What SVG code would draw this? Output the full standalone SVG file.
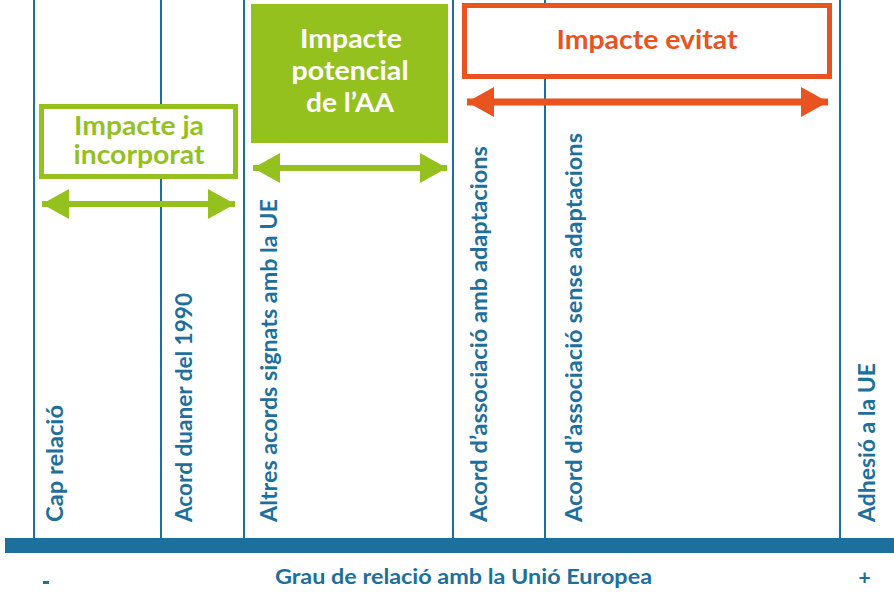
<svg xmlns="http://www.w3.org/2000/svg" width="894" height="592" viewBox="0 0 894 592">
  <style>
    .grid { stroke: #1d6f9c; stroke-width: 2; }
    .lbl { font-family: Lato, "Open Sans", "DejaVu Sans", sans-serif; font-weight: 700; fill: #1d6f9c; font-size: 22.5px; }
    .title { font-family: Lato, "Open Sans", "DejaVu Sans", sans-serif; font-weight: 700; font-size: 26px; text-anchor: middle; }
    .green { fill: #95c11f; }
    .white { fill: #ffffff; }
    .orange { fill: #e8531f; }
    .axis { font-family: Lato, "Open Sans", "DejaVu Sans", sans-serif; font-weight: 700; fill: #1d6f9c; font-size: 21px; }
  </style>
  <defs>
    <marker id="headG" viewBox="0 0 27 30" refX="27" refY="15" markerWidth="27" markerHeight="30" markerUnits="userSpaceOnUse" orient="auto-start-reverse">
      <path d="M0,0 L27,15 L0,30 Z" fill="#95c11f"/>
    </marker>
    <marker id="headO" viewBox="0 0 27 30" refX="27" refY="15" markerWidth="27" markerHeight="30" markerUnits="userSpaceOnUse" orient="auto-start-reverse">
      <path d="M0,0 L27,15 L0,30 Z" fill="#e8531f"/>
    </marker>
  </defs>

  <rect width="894" height="592" fill="#ffffff"/>

  <!-- vertical division lines -->
  <g id="grid">
    <line class="grid" x1="34" y1="0" x2="34" y2="540"/>
    <line class="grid" x1="161" y1="0" x2="161" y2="540"/>
    <line class="grid" x1="244" y1="0" x2="244" y2="540"/>
    <line class="grid" x1="453" y1="0" x2="453" y2="540"/>
    <line class="grid" x1="545" y1="0" x2="545" y2="540"/>
    <line class="grid" x1="840" y1="0" x2="840" y2="540"/>
  </g>

  <!-- relationship levels -->
  <g id="lvl-cap">
    <text class="lbl" transform="translate(63,522) rotate(-90)" textLength="117" lengthAdjust="spacingAndGlyphs">Cap relació</text>
  </g>
  <g id="lvl-duaner">
    <text class="lbl" transform="translate(192,522) rotate(-90)" textLength="229" lengthAdjust="spacingAndGlyphs">Acord duaner del 1990</text>
  </g>
  <g id="lvl-altres">
    <text class="lbl" transform="translate(277,522) rotate(-90)" textLength="323" lengthAdjust="spacingAndGlyphs">Altres acords signats amb la UE</text>
  </g>
  <g id="lvl-assoc-amb">
    <text class="lbl" transform="translate(487,522) rotate(-90)" textLength="376" lengthAdjust="spacingAndGlyphs">Acord d’associació amb adaptacions</text>
  </g>
  <g id="lvl-assoc-sense">
    <text class="lbl" transform="translate(582,522) rotate(-90)" textLength="389" lengthAdjust="spacingAndGlyphs">Acord d’associació sense adaptacions</text>
  </g>
  <g id="lvl-adhesio">
    <text class="lbl" transform="translate(875,522) rotate(-90)" textLength="159" lengthAdjust="spacingAndGlyphs">Adhesió a la UE</text>
  </g>

  <!-- impact boxes -->
  <g id="box-incorporat">
    <rect x="41.5" y="106.5" width="194" height="70" fill="#ffffff" stroke="#95c11f" stroke-width="5"/>
    <text class="title green" x="139" y="135" textLength="130" lengthAdjust="spacingAndGlyphs">Impacte ja</text>
    <text class="title green" x="139" y="164" textLength="131" lengthAdjust="spacingAndGlyphs">incorporat</text>
  </g>
  <g id="box-potencial">
    <rect x="251" y="4" width="197" height="139" fill="#95c11f"/>
    <text class="title white" x="351" y="48" textLength="102" lengthAdjust="spacingAndGlyphs">Impacte</text>
    <text class="title white" x="350" y="80" textLength="117" lengthAdjust="spacingAndGlyphs">potencial</text>
    <text class="title white" x="350" y="112" textLength="88" lengthAdjust="spacingAndGlyphs">de l’AA</text>
  </g>
  <g id="box-evitat">
    <rect x="464.5" y="5.5" width="365" height="71" fill="#ffffff" stroke="#e8531f" stroke-width="5"/>
    <text class="title orange" x="647" y="49" textLength="181" lengthAdjust="spacingAndGlyphs">Impacte evitat</text>
  </g>

  <!-- range arrows -->
  <g id="connectors">
    <line x1="42" y1="204" x2="235" y2="204" stroke="#95c11f" stroke-width="6" marker-start="url(#headG)" marker-end="url(#headG)"/>
    <line x1="253" y1="168" x2="447" y2="168" stroke="#95c11f" stroke-width="6" marker-start="url(#headG)" marker-end="url(#headG)"/>
    <line x1="467" y1="102" x2="828" y2="102" stroke="#e8531f" stroke-width="7" marker-start="url(#headO)" marker-end="url(#headO)"/>
  </g>

  <!-- axis -->
  <g id="axis">
    <rect x="5" y="538" width="889" height="15" fill="#1d6f9c"/>
    <text class="axis" x="275" y="584" textLength="377" lengthAdjust="spacingAndGlyphs">Grau de relació amb la Unió Europea</text>
    <rect x="43" y="581" width="6" height="3" fill="#1d6f9c"/>
    <text class="axis" x="864.5" y="585" font-size="13" text-anchor="middle">+</text>
  </g>
</svg>
